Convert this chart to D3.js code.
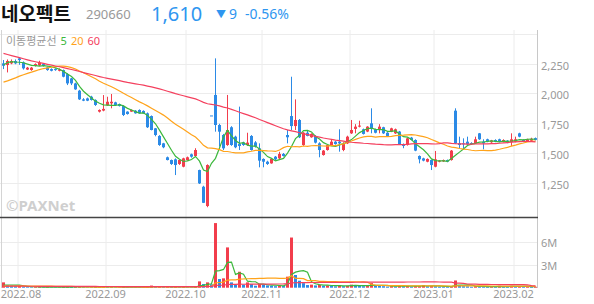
<!DOCTYPE html>
<html>
<head>
<meta charset="utf-8">
<script src="https://cdn.jsdelivr.net/npm/d3@7"></script>
<style>
  body { margin: 0; background: #fff; }
  text { font-family: "Noto Sans", "Noto Sans CJK KR", sans-serif; }
</style>
</head>
<body>
<svg id="chart" width="594" height="304"></svg>
<script>
// 헤더
const stockName = "네오펙트";
const stockCode = "290660";
const lastPrice = "1,610";
const priceChange = "9";
const changeRate = "-0.56%";

// 월별 거래일 수 (첫 묶음은 7월 말)
const monthLabels = ["2022.07", "2022.08", "2022.09", "2022.10", "2022.11", "2022.12", "2023.01", "2023.02"];
const tradingDays = [4, 22, 20, 19, 22, 21, 20, 6];

const priceTicks = [1250, 1500, 1750, 2000, 2250, 2500];
const volumeTicks = [3, 6];   // 백만 주

// 일봉 (원)
const opens = [2252,2238,2252,2272,2294,2260,2200,2196,2230,2235,2246,2218,2204,2204,2190,2196,2162,2126,2084,2023,
  1950,1958,1972,1945,1847,1856,1900,1917,1925,1911,1894,1847,1847,1855,1861,1853,1833,1810,1707,1643,
  1581,1464,1441,1447,1408,1385,1441,1489,1475,1357,1217,1055,1815,1987,1735,1651,1567,1716,1637,1575,
  1589,1567,1643,1589,1539,1450,1427,1413,1469,1455,1492,1651,1810,1726,1777,1567,1670,1632,1643,1581,
  1483,1525,1567,1595,1595,1525,1581,1665,1702,1721,1699,1680,1749,1699,1693,1716,1670,1680,1665,1680,
  1575,1567,1629,1609,1475,1455,1427,1441,1385,1427,1430,1441,1441,1855,1581,1581,1595,1584,1581,1665,
  1595,1615,1590,1609,1615,1595,1603,1592,1595,1665,1609,1598,1603,1625];
const highs = [2280,2285,2285,2285,2300,2268,2222,2222,2252,2274,2252,2225,2210,2210,2210,2200,2170,2130,2090,2030,
  1960,1965,1980,1950,1866,1986,1972,1995,1930,1915,1900,1850,1866,1860,1866,1858,1840,1815,1710,1650,
  1585,1470,1445,1455,1445,1460,1470,1495,1540,1360,1225,1405,1815,2294,1745,1660,1987,1725,1645,1889,
  1595,1670,1650,1600,1581,1455,1435,1455,1475,1510,1500,1693,2140,1950,1785,1675,1693,1665,1650,1590,
  1525,1570,1615,1600,1699,1590,1645,1777,1742,1771,1705,1725,1875,1705,1742,1720,1675,1712,1705,1685,
  1580,1628,1635,1615,1480,1460,1455,1445,1517,1440,1445,1445,1525,1875,1637,1623,1637,1590,1637,1668,
  1615,1620,1610,1615,1620,1615,1608,1665,1637,1670,1615,1620,1628,1630];
const lows = [2204,2176,2245,2245,2240,2200,2196,2190,2225,2230,2225,2190,2185,2190,2185,2135,2070,2070,2030,1945,
  1935,1935,1940,1895,1840,1850,1895,1875,1900,1890,1810,1822,1845,1830,1830,1830,1710,1690,1640,1560,
  1540,1438,1400,1315,1400,1380,1436,1460,1470,1240,1080,1045,1815,1679,1553,1525,1560,1560,1540,1525,
  1560,1560,1520,1545,1380,1380,1400,1410,1436,1450,1470,1581,1693,1693,1625,1560,1640,1628,1580,1464,
  1478,1520,1562,1570,1511,1515,1575,1660,1665,1715,1655,1675,1665,1665,1665,1660,1638,1675,1660,1570,
  1540,1562,1605,1515,1413,1430,1422,1357,1380,1422,1425,1422,1436,1575,1539,1531,1565,1570,1576,1610,
  1531,1590,1585,1590,1590,1590,1582,1559,1590,1632,1590,1595,1600,1605];
const closes = [2232,2272,2272,2252,2280,2210,2216,2216,2246,2257,2230,2196,2190,2196,2202,2140,2084,2084,2034,1950,
  1939,1939,1945,1903,1861,1870,1930,1930,1903,1894,1819,1827,1861,1833,1833,1833,1716,1693,1651,1567,
  1548,1441,1408,1399,1441,1455,1464,1469,1525,1245,1082,1399,1815,1735,1679,1539,1693,1567,1548,1559,
  1567,1587,1525,1553,1436,1427,1408,1450,1447,1492,1475,1632,1726,1777,1632,1670,1643,1660,1587,1525,
  1520,1567,1595,1575,1581,1575,1637,1693,1721,1730,1660,1721,1707,1670,1721,1665,1643,1707,1699,1575,
  1559,1623,1609,1520,1447,1436,1450,1399,1447,1436,1441,1427,1520,1581,1567,1573,1573,1578,1615,1615,
  1581,1595,1605,1595,1595,1609,1587,1615,1615,1637,1595,1615,1619,1610];
// 거래량 (백만 주)
const volumes = [0.7,0.3,0.28,0.2,0.25,0.12,0.08,0.07,0.09,0.1,0.06,0.08,0.05,0.05,0.06,0.1,0.12,0.09,0.1,0.14,
  0.08,0.06,0.07,0.1,0.12,0.15,0.1,0.12,0.06,0.05,0.1,0.07,0.06,0.05,0.05,0.06,0.12,0.28,0.1,0.12,
  0.09,0.15,0.12,0.14,0.08,0.1,0.07,0.06,0.12,0.83,0.48,0.7,0.45,8.5,1.14,1.23,5.3,0.7,0.39,2.1,
  0.39,0.7,0.48,0.26,0.5,0.39,0.3,0.25,0.2,0.3,0.22,1.45,6.6,1.67,0.92,0.6,0.35,0.4,0.3,0.38,
  0.25,0.3,0.22,0.18,0.35,0.2,0.25,0.4,0.3,0.25,0.2,0.22,0.6,0.3,0.25,0.2,0.15,0.2,0.18,0.25,
  0.2,0.22,0.16,0.2,0.22,0.35,0.2,0.25,0.2,0.15,0.12,0.1,0.2,0.95,0.3,0.2,0.18,0.12,0.2,0.18,
  0.15,0.12,0.14,0.1,0.25,0.12,0.1,0.25,0.15,0.2,0.12,0.15,0.1,0.12];

// 화면 왼쪽 이전 59거래일 (이동평균선 시작값에서 추정)
const earlierCloses = [2850,2830,2800,2790,2760,2740,2720,2700,2680,2660,2640,2620,2600,2590,2580,2570,
  2540,2520,2490,2470,2450,2420,2400,2380,2360,2340,2320,2300,2280,2260,2240,2220,2200,2190,2170,2150,2130,2120,2100,2090,
  2060,2030,2000,1990,1980,1990,2010,2020,2040,2060,2080,2090,2100,2120,2140,2170,
  2230,2270,2290];
const earlierVolumes = [0.22,0.18,0.25,0.2,0.16,0.3,0.21,0.17,0.19,0.24,0.15,0.18,0.2,0.26,0.17,0.14,0.19,0.22,0.16,0.18,
  0.21,0.15,0.17,0.2,0.23,0.16,0.14,0.18,0.19,0.15,0.17,0.21,0.16,0.13,0.15,0.18,0.2,0.14,0.16,0.17,
  0.15,0.13,0.16,0.19,0.14,0.15,0.17,0.16,0.13,0.15,0.18,0.14,0.16,0.2,0.22,0.25,0.28,0.26,0.24];

const maPeriods = [5, 20, 60];
const maColors = ["#3cb83c", "#ffa31a", "#f4405e"];
const upColor = "#f23d4c", downColor = "#2b8ae6";

const svg = d3.select("#chart");
const n = closes.length;
const days = [];
tradingDays.forEach((cnt, m) => {
  for (let k = 0; k < cnt; k++) days.push({ month: monthLabels[m], first: k === 0, i: days.length });
});
const monthStarts = days.filter(d => d.first && d.i > 0);

// 스케일
const x = d3.scaleBand().domain(d3.range(n)).range([1.5, 537.5]).padding(0);
const cx = i => x(i) + x.bandwidth() / 2;
const y = d3.scaleLinear().domain([963, 2532]).range([217, 30]);
const yv = d3.scaleLinear().domain([0, 9.3]).range([287.7, 217]);

//이동평균
function movingAvg(prev, vals, p) {
  const all = prev.concat(vals);
  return vals.map((v, i) => {
    let j = i + prev.length;
    return j - p + 1 < 0 ? null : d3.mean(all.slice(j - p + 1, j + 1));
  });
}

// 격자
const grid = svg.append("g").attr("stroke", "#ececec").attr("stroke-width", 1);
priceTicks.forEach(t => {
  grid.append("line").attr("x1", 0).attr("x2", 537).attr("y1", Math.round(y(t)) + 0.5).attr("y2", Math.round(y(t)) + 0.5);
});
volumeTicks.forEach(t => {
  grid.append("line").attr("x1", 0).attr("x2", 537).attr("y1", Math.round(yv(t)) + 0.5).attr("y2", Math.round(yv(t)) + 0.5);
});
monthStarts.forEach(d => {
  grid.append("line").attr("x1", x(d.i) + 0.5).attr("x2", x(d.i) + 0.5).attr("y1", 30).attr("y2", 288);
});

// 테두리
svg.append("line").attr("x1", 1.5).attr("x2", 1.5).attr("y1", 30).attr("y2", 288).attr("stroke", "#d4d4d4");
svg.append("line").attr("x1", 537.5).attr("x2", 537.5).attr("y1", 30).attr("y2", 288).attr("stroke", "#c8c8c8");
svg.append("line").attr("x1", 0).attr("x2", 538).attr("y1", 217.5).attr("y2", 217.5).attr("stroke", "#444").attr("stroke-width", 1.3);

// 워터마크
svg.append("text").attr("x", 6).attr("y", 211).attr("font-size", 15).attr("font-weight", "bold")
  .attr("fill", "#cfcfcf").text("©PAXNet");

// 거래량 막대 (전일보다 많으면 빨강)
svg.append("g").selectAll("rect").data(volumes).enter().append("rect")
  .attr("x", (d, i) => x(i) + 0.5)
  .attr("width", 3)
  .attr("y", d => yv(d))
  .attr("height", d => yv(0) - yv(d))
  .attr("fill", (d, i) => (i === 0 ? d > earlierVolumes[earlierVolumes.length - 1] : d > volumes[i - 1]) ? upColor : downColor);

// 캔들
const candles = svg.append("g").selectAll("g").data(d3.range(n)).enter().append("g");
candles.append("line")
  .attr("x1", i => cx(i)).attr("x2", i => cx(i))
  .attr("y1", i => y(highs[i])).attr("y2", i => y(lows[i]))
  .attr("stroke", i => closes[i] > opens[i] ? upColor : downColor).attr("stroke-width", 1);
candles.append("rect")
  .attr("x", i => x(i) + 0.5).attr("width", 3)
  .attr("y", i => y(Math.max(opens[i], closes[i])))
  .attr("height", i => Math.max(1, Math.abs(y(opens[i]) - y(closes[i]))))
  .attr("fill", i => closes[i] > opens[i] ? upColor : downColor);

// 이동평균선
const line = d3.line().defined(d => d[1] != null).x(d => cx(d[0]));
maPeriods.forEach((p, k) => {
  const ma = movingAvg(earlierCloses, closes, p).map((v, i) => [i, v]);
  svg.append("path").datum(ma)
    .attr("d", line.y(d => y(d[1])))
    .attr("fill", "none").attr("stroke", maColors[k]).attr("stroke-width", 1.2);
  const vma = movingAvg(earlierVolumes, volumes, p).map((v, i) => [i, v]);
  svg.append("path").datum(vma)
    .attr("d", line.y(d => yv(d[1])))
    .attr("fill", "none").attr("stroke", maColors[k]).attr("stroke-width", 1.2);
});

// 오른쪽 축 라벨
const axisText = svg.append("g").attr("font-size", 11).attr("fill", "#999");
priceTicks.filter(t => y(t) > 45).forEach(t => {
  axisText.append("text").attr("x", 541).attr("y", y(t) + 6).text(d3.format(",")(t));
});
volumeTicks.forEach(t => {
  axisText.append("text").attr("x", 541).attr("y", yv(t) + 5).text(t + "M");
});
monthStarts.forEach(d => {
  axisText.append("text").attr("x", Math.max(x(d.i), 21)).attr("y", 298).attr("text-anchor", "middle").text(d.month);
});

// 범례
const legend = svg.append("text").attr("x", 6).attr("y", 45).attr("font-size", 11);
legend.append("tspan").attr("fill", "#999").text("이동평균선");
maPeriods.forEach((p, k) => {
  legend.append("tspan").attr("dx", 4).attr("fill", maColors[k]).text(p);
});

// 헤더
svg.append("text").attr("x", 1).attr("y", 21).attr("font-size", 19).attr("font-weight", "bold")
  .attr("fill", "#111").style("font-family", "'Noto Sans CJK KR'").text(stockName);
svg.append("text").attr("x", 86).attr("y", 19).attr("font-size", 13).attr("fill", "#999").text(stockCode);
svg.append("text").attr("x", 151).attr("y", 21).attr("font-size", 20).attr("fill", "#2e96f0").text(lastPrice);
svg.append("text").attr("x", 216).attr("y", 18).attr("font-size", 10).attr("fill", "#2e96f0").text("▼");
svg.append("text").attr("x", 229).attr("y", 19).attr("font-size", 14).attr("fill", "#2e96f0").text(priceChange);
svg.append("text").attr("x", 245).attr("y", 19).attr("font-size", 14).attr("fill", "#2e96f0").text(changeRate);
</script>
</body>
</html>
